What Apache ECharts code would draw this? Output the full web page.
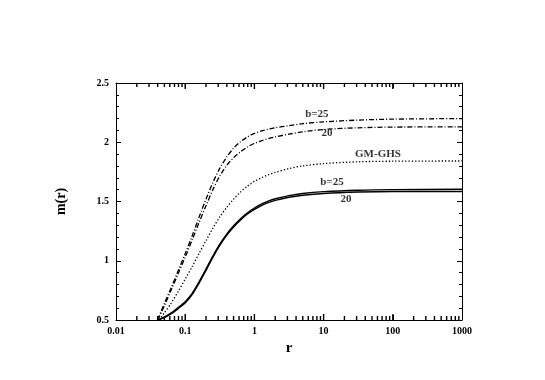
<!DOCTYPE html>
<html>
<head>
<meta charset="utf-8">
<script src="https://cdn.jsdelivr.net/npm/echarts@6/dist/echarts.min.js"></script>
<style>
  html, body { margin: 0; padding: 0; background: #fff; }
  #main { width: 545px; height: 380px; }
</style>
</head>
<body>
<div id="main"></div>
<script>
// r values (log spaced)
var rGrid = [0.04, 0.05, 0.063, 0.079, 0.1, 0.126, 0.158, 0.2, 0.251, 0.316, 0.398, 0.501, 0.631, 0.794, 1, 1.26, 1.58, 2, 3.16, 5, 10, 31.6, 100, 1000];
var rGHS  = [0.042, 0.05, 0.063, 0.079, 0.1, 0.126, 0.158, 0.2, 0.251, 0.316, 0.398, 0.501, 0.631, 0.794, 1, 1.26, 1.58, 2, 3.16, 5, 10, 31.6, 100, 1000];

// dash-dot curves
var mDD25 = [0.50, 0.64, 0.775, 0.915, 1.06, 1.21, 1.365, 1.52, 1.66, 1.78, 1.875, 1.95, 2.005, 2.045, 2.075, 2.095, 2.11, 2.122, 2.14, 2.157, 2.172, 2.187, 2.195, 2.20];
var mDD20 = [0.50, 0.62, 0.755, 0.89, 1.03, 1.175, 1.32, 1.465, 1.60, 1.715, 1.805, 1.87, 1.92, 1.96, 1.99, 2.012, 2.03, 2.045, 2.068, 2.088, 2.108, 2.122, 2.128, 2.13];
// dotted GM-GHS
var mGHS  = [0.50, 0.56, 0.645, 0.74, 0.845, 0.95, 1.06, 1.17, 1.275, 1.37, 1.45, 1.52, 1.58, 1.63, 1.67, 1.70, 1.725, 1.745, 1.778, 1.80, 1.82, 1.835, 1.84, 1.842];
// solid curves
var mS25  = [0.50, 0.525, 0.56, 0.605, 0.655, 0.725, 0.82, 0.93, 1.04, 1.14, 1.225, 1.295, 1.355, 1.405, 1.445, 1.478, 1.503, 1.523, 1.55, 1.568, 1.583, 1.595, 1.60, 1.603];
var mS20  = [0.50, 0.521, 0.553, 0.596, 0.644, 0.714, 0.809, 0.919, 1.029, 1.129, 1.214, 1.284, 1.344, 1.394, 1.433, 1.466, 1.490, 1.510, 1.536, 1.553, 1.568, 1.58, 1.585, 1.585];

// curve labels: [r, m, text]
var curveLabels = [
  [8.0, 2.238, 'b=25'],
  [11.2, 2.078, '20'],
  [61, 1.90, 'GM-GHS'],
  [13.2, 1.665, 'b=25'],
  [21, 1.521, '20']
];

// log ticks of the r axis
var majorR = [0.1, 1, 10, 100];
var minorR = [];
[0.01, 0.1, 1, 10, 100].forEach(function (d) {
  for (var k = 2; k <= 9; k++) minorR.push(+(k * d).toPrecision(3));
});

function pairs(xs, ys) {
  return xs.map(function (x, i) { return [x, ys[i]]; });
}

var font = 'Liberation Serif, Times New Roman, serif';
var myChart = echarts.init(document.getElementById('main'));

function lineSeries(name, xs, ys, type, width) {
  return {
    name: name,
    type: 'line',
    data: pairs(xs, ys),
    smooth: 0.3,
    showSymbol: false,
    symbol: 'none',
    silent: true,
    lineStyle: { color: '#000', width: width, type: type }
  };
}

// small tick marks drawn as thin rect symbols sitting on the bottom / top frame
function tickSeries(xs, m, len, up) {
  return {
    type: 'scatter',
    silent: true,
    clip: false,
    symbol: 'rect',
    symbolSize: [1.4, len],
    symbolOffset: [0, up ? -len / 2 : len / 2],
    itemStyle: { color: '#000', opacity: 1 },
    data: xs.map(function (v) { return [v, m]; }),
    z: 5
  };
}

var labelSeries = {
  type: 'scatter',
  symbolSize: 0,
  silent: true,
  data: curveLabels.map(function (d) { return [d[0], d[1], d[2]]; }),
  label: {
    show: true,
    position: 'inside',
    formatter: function (p) { return p.value[2]; },
    fontFamily: font,
    fontWeight: 'bold',
    fontSize: 11,
    color: '#000'
  }
};

var tickLabel = { fontFamily: font, fontWeight: 'bold', fontSize: 10, color: '#000' };
var blackLine = { show: true, lineStyle: { color: '#000', width: 1 } };
var majorTick = { show: true, inside: true, length: 5, lineStyle: { color: '#000' } };

myChart.setOption({
  animation: false,
  grid: { left: 116, right: 83, top: 83, bottom: 60 },
  xAxis: [{
    type: 'log',
    logBase: 10,
    min: 0.01,
    max: 1000,
    name: 'r',
    nameLocation: 'middle',
    nameGap: 14,
    nameTextStyle: { fontFamily: font, fontWeight: 'bold', fontSize: 15, color: '#000' },
    axisLine: blackLine,
    axisTick: majorTick,
    axisLabel: Object.assign({ margin: 6, formatter: function (v) { return String(+v.toPrecision(3)); } }, tickLabel),
    splitLine: { show: false }
  }, {
    type: 'log',
    logBase: 10,
    min: 0.01,
    max: 1000,
    position: 'top',
    axisLine: blackLine,
    axisTick: majorTick,
    axisLabel: { show: false },
    splitLine: { show: false }
  }],
  yAxis: [{
    type: 'value',
    min: 0.5,
    max: 2.5,
    interval: 0.5,
    name: 'm(r)',
    nameLocation: 'middle',
    nameGap: 48,
    nameTextStyle: { fontFamily: font, fontWeight: 'bold', fontSize: 14, color: '#000' },
    axisLine: blackLine,
    axisTick: majorTick,
    minorTick: { show: true, splitNumber: 5, length: 3, lineStyle: { color: '#000' } },
    axisLabel: Object.assign({ margin: 7 }, tickLabel),
    splitLine: { show: false }
  }, {
    type: 'value',
    min: 0.5,
    max: 2.5,
    interval: 0.5,
    position: 'right',
    axisLine: blackLine,
    axisTick: majorTick,
    minorTick: { show: true, splitNumber: 5, length: 3, lineStyle: { color: '#000' } },
    axisLabel: { show: false },
    splitLine: { show: false }
  }],
  series: [
    lineSeries('b=25 dd', rGrid, mDD25, [5, 2, 1, 2], 1.3),
    lineSeries('b=20 dd', rGrid, mDD20, [5, 2, 1, 2], 1.3),
    lineSeries('GM-GHS', rGHS, mGHS, [1.3, 2], 1.3),
    lineSeries('b=25', rGrid, mS25, 'solid', 1.4),
    lineSeries('b=20', rGrid, mS20, 'solid', 1.4),
    labelSeries,
    tickSeries(minorR, 0.5, 4, true),
    tickSeries(minorR, 2.5, 4, false),
    tickSeries(majorR, 0.5, 6, true),
    tickSeries(majorR, 2.5, 6, false)
  ]
});
</script>
</body>
</html>
